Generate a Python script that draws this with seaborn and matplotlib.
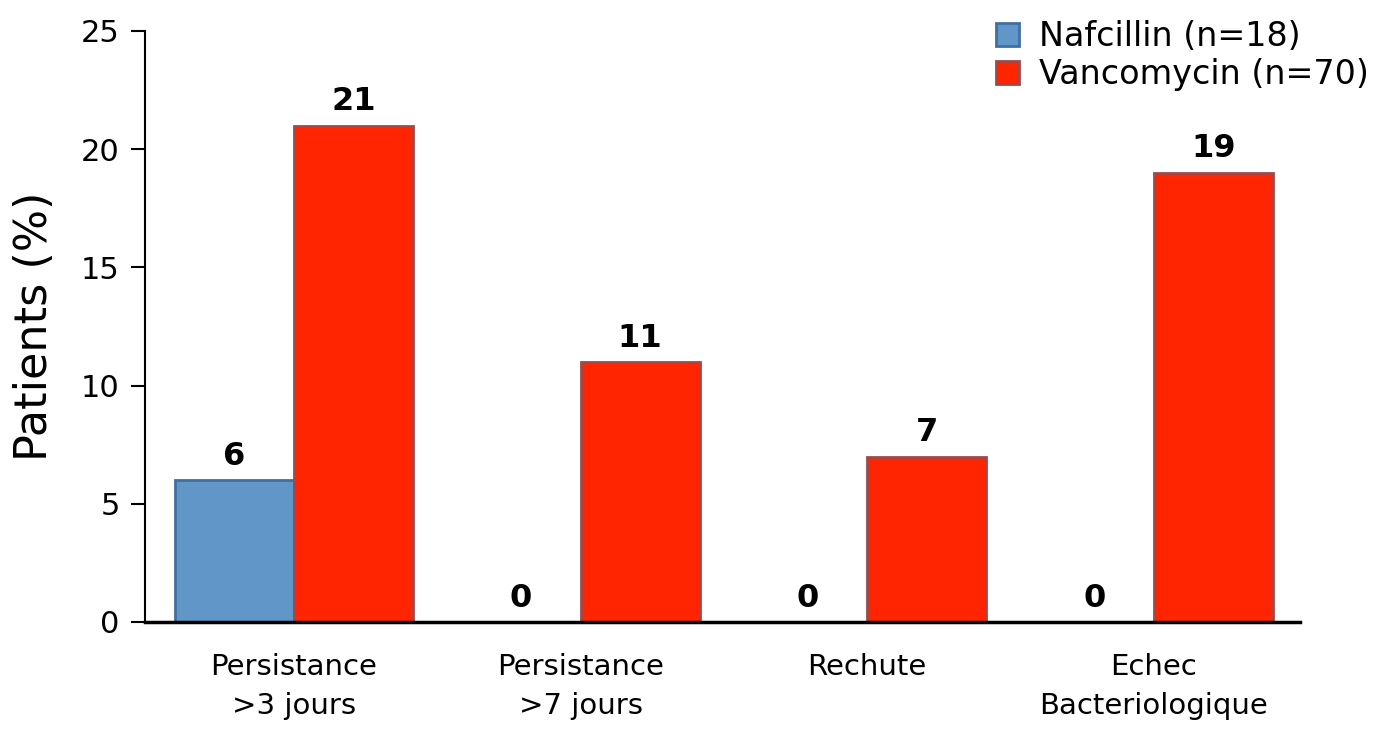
import matplotlib
matplotlib.use("Agg")
import matplotlib.pyplot as plt
import matplotlib.patches as mpatches
import seaborn as sns
import pandas as pd

categories = ["Persistance\n>3 jours", "Persistance\n>7 jours", "Rechute", "Echec\nBacteriologique"]
series_names = ["Nafcillin (n=18)", "Vancomycin (n=70)"]
nafcillin = [6, 0, 0, 0]
vancomycin = [21, 11, 7, 19]
yticks = [0, 5, 10, 15, 20, 25]

fill_colors = ["#6096C8", "#FF2500"]
edge_colors = ["#41709F", "#A04848"]

sns.set_theme(style="white")
plt.rcParams["font.family"] = ["DejaVu Sans"]
plt.rcParams["text.color"] = "black"
plt.rcParams["xtick.color"] = "black"
plt.rcParams["ytick.color"] = "black"
plt.rcParams["axes.labelcolor"] = "black"

df = pd.DataFrame({
    "category": categories * 2,
    "series": [series_names[0]] * 4 + [series_names[1]] * 4,
    "value": nafcillin + vancomycin,
})

fig = plt.figure(figsize=(13.92, 7.29), dpi=100)
ax = fig.add_axes([0.104, 0.1468, 0.830, 0.8107])

sns.barplot(data=df, x="category", y="value", hue="series",
            hue_order=series_names, order=categories,
            palette=fill_colors, saturation=1, width=0.83, dodge=True,
            errorbar=None, legend=False, ax=ax)

for container, ec in zip(ax.containers, edge_colors):
    for bar in container:
        bar.set_edgecolor(ec)
        bar.set_linewidth(2)
    ax.bar_label(container, fmt="%d", padding=6, fontsize=23,
                 fontweight="bold", color="black")

ax.set_ylim(0, 25)
ax.set_xlim(-0.52, 3.51)
ax.set_yticks(yticks)
ax.set_yticklabels([str(t) for t in yticks], fontsize=22)
ax.tick_params(axis="y", direction="out", length=10, width=1.5, color="black",
               left=True, pad=8)
ax.tick_params(axis="x", length=0, pad=22)
for lbl in ax.get_xticklabels():
    lbl.set_fontsize(21)
    lbl.set_linespacing(1.5)
ax.set_xlabel("")
ax.set_ylabel("Patients (%)", fontsize=32, labelpad=18)

sns.despine(ax=ax, top=True, right=True)
ax.spines["left"].set_color("black")
ax.spines["left"].set_linewidth(1.5)
ax.spines["bottom"].set_color("black")
ax.spines["bottom"].set_linewidth(2.5)

handles = [mpatches.Patch(facecolor=fc, edgecolor=ec, linewidth=2, label=name)
           for fc, ec, name in zip(fill_colors, edge_colors, series_names)]
fig.legend(handles=handles, loc="upper right", bbox_to_anchor=(0.998, 1.0),
           frameon=False, fontsize=24, handlelength=0.7, handleheight=0.7,
           handletextpad=0.6, labelspacing=0.15, borderaxespad=0.2)

fig.savefig("out.png", dpi=100)
